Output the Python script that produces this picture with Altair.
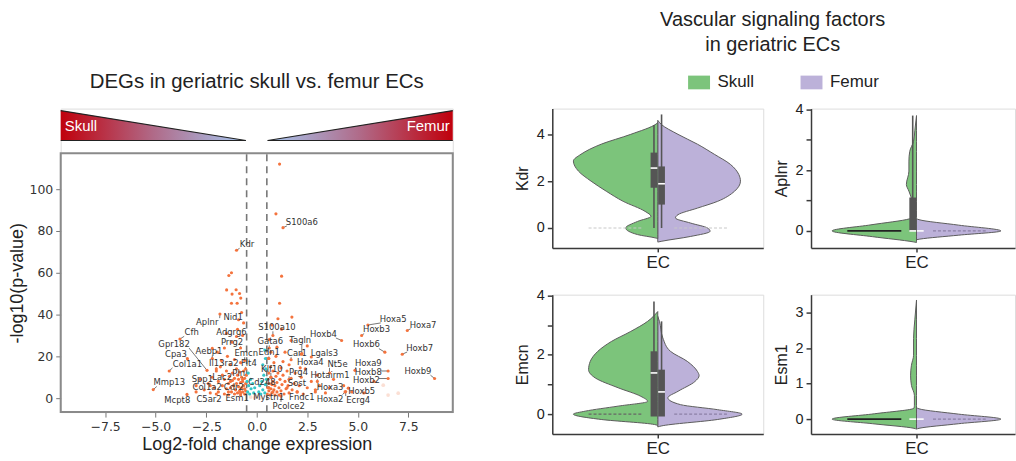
import altair as alt
import pandas as pd

# ---------------- volcano values ----------------
X_TICKS = [-7.5, -5.0, -2.5, 0.0, 2.5, 5.0, 7.5]
Y_TICKS = [0, 20, 40, 60, 80, 100]
FC_THRESHOLDS = [-0.5, 0.5]
X_RANGE = [-9.7, 9.7]          # log2FC extent of the volcano frame
Y_RANGE = [-6.67, 117.2]       # -log10 p extent of the volcano frame

ORANGE_PTS = [
    (1.13, 112), (0.95, 88.2), (1.23, 58.4), (1.13, 45.4), (-1.38, 58.7), (-1.25, 60),
    (-1.49, 51.8), (-1.22, 49.8), (-1.02, 51.9), (-0.85, 50.1), (-0.79, 47.9), (-1.25, 45.4),
    (-0.97, 45.4), (1.74, 38.8), (-1.23, 26.8), (1.23, 33), (1.7, 27.6), (2.2, 21), (1.0, 24.4),
    (-2.2, 23.8), (0.62, 28), (0.75, 35), (-0.7, 30), (-0.65, 36), (-1.5, 31), (-0.95, 33),
    (1.05, 38), (2.5, 25), (1.4, 22), (-0.9, 37.5),
    (-2.6, 4), (-2.4, 7), (-2.3, 2.5), (-2.2, 10), (-2.1, 5), (-2.0, 13), (-1.9, 8), (-1.9, 3),
    (-1.8, 15), (-1.7, 6), (-1.7, 11), (-1.6, 2), (-1.6, 9), (-1.5, 13), (-1.5, 4.5), (-1.4, 7),
    (-1.4, 1.5), (-1.35, 10.5), (-1.3, 16), (-1.3, 5), (-1.25, 3), (-1.2, 8.5), (-1.2, 12),
    (-1.15, 6), (-1.1, 2), (-1.1, 9.5), (-1.05, 4), (-1.0, 14), (-1.0, 7), (-0.95, 11),
    (-0.95, 2.5), (-0.9, 5.5), (-0.9, 9), (-0.85, 3.5), (-0.85, 12.5), (-0.8, 7.5), (-0.8, 1.5),
    (-0.75, 10), (-0.75, 5), (-0.7, 3), (-0.7, 8), (-0.65, 6), (-0.65, 13), (-0.6, 2), (-0.6, 4.5),
    (-0.6, 9.5), (-0.55, 7), (-0.55, 3.5), (-0.52, 11), (-1.75, 18), (-1.45, 20), (-1.1, 18.5),
    (-0.8, 17), (-2.8, 9), (-3.0, 6), (-1.95, 22), (-1.6, 24),
    (0.52, 2), (0.55, 5), (0.55, 9), (0.6, 3.5), (0.6, 12), (0.62, 7), (0.65, 1.5), (0.68, 15),
    (0.7, 4.5), (0.7, 10), (0.75, 6.5), (0.75, 2.5), (0.8, 8), (0.8, 13), (0.85, 4), (0.85, 17),
    (0.9, 1.5), (0.9, 6), (0.95, 10.5), (1.0, 3), (1.0, 7.5), (1.05, 12), (1.1, 5), (1.1, 1.5),
    (1.15, 9), (1.2, 3.5), (1.2, 14.5), (1.25, 6.5), (1.3, 11), (1.35, 2), (1.4, 8), (1.45, 4.5),
    (1.5, 13), (1.55, 6), (1.6, 2.5), (1.7, 9.5), (1.75, 4), (1.85, 7), (1.9, 12), (2.0, 3),
    (2.1, 6), (2.2, 10), (2.3, 2), (2.5, 5), (2.7, 8), (2.9, 3), (3.1, 6), (3.4, 2.5), (3.6, 5),
    (0.58, 19), (0.7, 22), (0.95, 20), (1.3, 17.5), (1.6, 16), (2.4, 14), (3.0, 11), (3.8, 9),
    (4.3, 6), (4.7, 3), (5.3, 2.5), (5.8, 8),
]
CYAN_PTS = [
    (-0.45, 3), (-0.4, 6), (-0.35, 2), (-0.3, 9), (-0.28, 4.5), (-0.2, 7), (-0.15, 2.5),
    (-0.1, 5), (0.1, 3), (0.15, 6), (0.2, 2), (0.25, 8), (0.3, 4), (0.35, 11), (0.4, 2.5),
    (0.42, 6.5), (0.45, 14), (0.43, 19), (0.4, 23), (-0.42, 12), (0.3, 16), (0.48, 9), (-0.48, 8),
]
FAINT_PTS = [(-0.3, 0.5), (0.0, 1.0), (0.2, 0.3), (-0.1, 0.2), (6.26, 6.2), (7.0, 2.4), (6.5, 1.5)]

# (gene, log2FC, -log10 p, label x, label y)
GENE_LABELS = [
    ("Kdr", -1.0, 70.8, -0.48, 73.7), ("S100a6", 1.30, 81.6, 2.23, 84.4),
    ("Aplnr", -1.82, 40.3, -2.45, 36.3), ("Nid1", -0.75, 41.0, -1.17, 39.0),
    ("Cfh", -3.8, 28.3, -3.22, 31.6), ("Adgrg6", -1.0, 29.5, -1.25, 31.6),
    ("Gpr182", -2.46, 13.3, -4.09, 26.0), ("Prrg2", -0.8, 24.0, -1.22, 26.8),
    ("Aebp1", -2.2, 19.0, -2.36, 22.4), ("Emcn", -0.6, 18.0, -0.52, 21.6),
    ("Cpa3", -3.43, 18.9, -4.0, 21.3), ("Col1a1", -4.33, 13.0, -3.43, 16.5),
    ("Il13ra2", -2.0, 14.0, -1.63, 16.8), ("Flt4", -0.55, 14.0, -0.39, 17.0),
    ("Mmp13", -5.12, 4.1, -4.33, 7.6), ("Spp1", -2.3, 6.0, -2.69, 9.2),
    ("Lac2", -1.3, 8.0, -1.71, 10.1), ("Pln", -0.7, 9.0, -0.89, 12.0),
    ("Col1a2", -3.0, 3.0, -2.45, 5.1), ("Cdr2", -1.4, 3.0, -1.13, 5.1),
    ("Mcpt8", -3.45, 1.8, -3.93, -1.0), ("C5ar2", -2.0, 2.0, -2.36, -0.5),
    ("Esm1", -0.8, 2.5, -0.97, -0.1), ("S100a10", 0.8, 30.0, 1.0, 34.0),
    ("Gata6", 0.62, 24.0, 0.67, 27.3), ("Tagln", 2.23, 21.3, 2.15, 27.6),
    ("Edn1", 0.6, 19.0, 0.62, 22.0), ("Car1", 1.7, 18.4, 1.99, 21.6),
    ("Hoxb4", 4.2, 27.6, 3.3, 30.8), ("Lgals3", 2.7, 19.7, 3.35, 21.8),
    ("Hoxa4", 2.15, 14.5, 2.65, 17.1), ("Nt5e", 3.6, 12.0, 4.0, 16.5),
    ("Klf10", 0.7, 10.0, 0.75, 14.1), ("Prg4", 1.6, 9.0, 2.07, 12.5),
    ("Hotairm1", 3.0, 8.0, 3.63, 11.0), ("Sost", 1.5, 5.0, 1.99, 7.3),
    ("Hoxa3", 2.9, 4.0, 3.63, 5.4), ("Cd248", 0.6, 5.0, 0.26, 7.8),
    ("Mystn1", 0.8, 3.0, 0.59, 0.6), ("Fndc1", 2.0, 3.0, 2.23, 0.6),
    ("Pcolce2", 1.2, 1.0, 1.58, -3.8), ("Hoxa2", 4.37, 3.0, 3.63, -0.3),
    ("Hoxb5", 4.53, 4.8, 5.19, 3.5), ("Ecrg4", 4.4, 3.2, 5.02, -1.0),
    ("Hoxa5", 5.5, 35.0, 6.75, 38.0), ("Hoxb3", 5.19, 30.0, 5.93, 32.9),
    ("Hoxa7", 7.45, 32.4, 8.23, 35.2), ("Hoxb6", 6.34, 22.0, 5.43, 25.7),
    ("Hoxb7", 7.2, 21.0, 8.06, 24.1), ("Hoxa9", 4.86, 13.3, 5.52, 16.8),
    ("Hoxb8", 6.5, 13.0, 5.52, 12.5), ("Hoxb2", 6.5, 9.4, 5.43, 8.6),
    ("Hoxb9", 8.8, 9.4, 7.98, 13.0),
]

# gradient wedges drawn above the frame (log2FC extent, -log10 p height)
TRI_LEFT_X = [-9.7, -0.54]
TRI_LEFT_TOP = [137.6, 123.3]
TRI_RIGHT_X = [0.54, 9.7]
TRI_RIGHT_TOP = [123.3, 137.6]
TRI_BASE = 123.3

# ---------------- violin values: (expression, relative density) ----------------
SIDES = ["Skull", "Femur"]
PROFILES = {
    ("Kdr", "Skull"): [(4.5, 0), (4.44, .02), (4.0, .32), (3.58, .67), (3.15, .91), (2.86, 1.0),
                       (2.43, .94), (2.0, .79), (1.57, .61), (1.14, .41), (0.71, .15), (0.5, .08),
                       (0.28, .24), (0.0, .38), (-0.28, .24), (-0.43, .02), (-0.45, 0)],
    ("Kdr", "Femur"): [(4.6, 0), (4.43, .04), (4.0, .24), (3.58, .47), (3.15, .67), (2.72, .86),
                       (2.29, .96), (2.0, .98), (1.57, .91), (1.14, .71), (0.85, .47), (0.57, .24),
                       (0.43, .21), (0.21, .39), (0.0, .59), (-0.14, .62), (-0.36, .39),
                       (-0.57, .04), (-0.6, 0)],
    ("Aplnr", "Skull"): [(3.8, 0), (3.3, .02), (2.95, .035), (2.62, .08), (2.3, .09), (1.97, .09),
                         (1.53, .12), (1.31, .09), (0.98, .05), (0.66, .035), (0.45, .035),
                         (0.40, .08), (0.2, .54), (0.0, 1.0), (-0.19, .52), (-0.36, .04), (-0.38, 0)],
    ("Aplnr", "Femur"): [(0.40, 0), (0.37, .03), (0.19, .5), (0.0, 1.0), (-0.14, .5),
                         (-0.27, .04), (-0.29, 0)],
    ("Emcn", "Skull"): [(3.46, 0), (3.13, .12), (2.79, .32), (2.45, .55), (2.12, .71), (1.78, .8),
                        (1.50, .82), (1.22, .74), (0.89, .47), (0.60, .2), (0.43, .12), (0.27, .47),
                        (0.10, .86), (0.0, 1.0), (-0.18, .67), (-0.35, .04), (-0.38, 0)],
    ("Emcn", "Femur"): [(3.3, 0), (3.13, .02), (2.57, .06), (2.12, .15), (1.78, .35), (1.44, .47),
                        (1.3, .49), (1.1, .44), (0.77, .24), (0.55, .12), (0.32, .27), (0.15, .71),
                        (0.0, 1.0), (-0.18, .71), (-0.40, .04), (-0.43, 0)],
    ("Esm1", "Skull"): [(3.36, 0), (2.8, .02), (2.27, .035), (1.8, .035), (1.52, .06), (1.24, .07),
                        (0.95, .06), (0.67, .025), (0.39, .025), (0.31, .03), (0.15, .5), (0.0, 1.0),
                        (-0.13, .52), (-0.26, .03), (-0.28, 0)],
    ("Esm1", "Femur"): [(0.32, 0), (0.29, .03), (0.14, .5), (0.0, 1.0), (-0.13, .5),
                        (-0.26, .03), (-0.28, 0)],
}
# (q1, median, q3, whisker low, whisker high)
BOXES = {
    ("Kdr", "Skull"): (1.72, 2.56, 3.22, 0.0, 4.4),
    ("Kdr", "Femur"): (1.0, 1.89, 2.63, 0.0, 4.85),
    ("Aplnr", "Skull"): (0.0, 0.0, 1.1, 0.0, 3.8),
    ("Aplnr", "Femur"): (0.0, 0.0, 0.0, 0.0, 0.0),
    ("Emcn", "Skull"): (-0.08, 1.39, 2.12, 0.0, 3.8),
    ("Emcn", "Femur"): (-0.08, 0.75, 1.5, 0.0, 3.13),
    ("Esm1", "Skull"): (0.0, 0.0, 0.0, 0.0, 0.0),
    ("Esm1", "Femur"): (0.0, 0.0, 0.0, 0.0, 0.0),
}

# ---------------- styling ----------------
FONT = "Liberation Sans"
ORANGE = "#f4733d"
CYAN = "#35c6c8"
GREEN = "#7cc47b"
PURPLE = "#bcb1d9"
AX = "#3a3a3a"

# ---------------- left panel: wedges + volcano in one view ----------------
xs = alt.Scale(domain=X_RANGE, nice=False, zero=False)
ys = alt.Scale(domain=[Y_RANGE[0], 138.57], nice=False, zero=False)
vx_axis = alt.Axis(values=X_TICKS, format=".1f", grid=False, domain=False, tickColor="#777",
                   tickSize=5, labelColor="#333", labelFont="DejaVu Sans", labelFontSize=12.5,
                   labelPadding=3, title="Log2-fold change expression", titleFont=FONT,
                   titleFontSize=18, titleFontWeight="normal", titleColor="#222", titlePadding=3)
vy_axis = alt.Axis(values=Y_TICKS, grid=False, domain=False, tickColor="#777", tickSize=5,
                   labelColor="#333", labelFont="DejaVu Sans", labelFontSize=12.5, labelPadding=3,
                   title="-log10(p-value)", titleFont=FONT, titleFontSize=18,
                   titleFontWeight="normal", titleColor="#222", titlePadding=3, titleY=175)


def vx(field):
    return alt.X(field, type="quantitative", scale=xs, axis=vx_axis)


def vy(field):
    return alt.Y(field, type="quantitative", scale=ys, axis=vy_axis)


orange_df = pd.DataFrame(ORANGE_PTS, columns=["x", "y"])
cyan_df = pd.DataFrame(CYAN_PTS, columns=["x", "y"])
faint_df = pd.DataFrame(FAINT_PTS, columns=["x", "y"])
genes_df = pd.DataFrame(GENE_LABELS, columns=["gene", "x", "y", "lx", "ly"])
# leader lines end at the nearest edge of each label box
half_w = genes_df["gene"].str.len() * 5.0 / 20.3 / 2
genes_df["ex"] = genes_df["x"].clip(lower=genes_df["lx"] - half_w, upper=genes_df["lx"] + half_w)
genes_df["ey"] = genes_df["y"].clip(lower=genes_df["ly"] - 2.0, upper=genes_df["ly"] + 2.0)

frame = alt.Chart(pd.DataFrame({"x": [X_RANGE[0]], "x2": [X_RANGE[1]], "y": [Y_RANGE[0]], "y2": [Y_RANGE[1]]})
                  ).mark_rect(fillOpacity=0, stroke="#8a8a8a", strokeWidth=2).encode(
    x=vx("x"), x2="x2:Q", y=vy("y"), y2="y2:Q")
thr = alt.Chart(pd.DataFrame({"t": FC_THRESHOLDS, "y": [Y_RANGE[0]] * 2, "y2": [Y_RANGE[1]] * 2})).mark_rule(
    color="#777", strokeWidth=1.6, strokeDash=[7, 5]).encode(x=vx("t"), y=vy("y"), y2="y2:Q")
faint = alt.Chart(faint_df).mark_circle(size=14, color="#f6b8a0", opacity=0.45).encode(x=vx("x"), y=vy("y"))
orange = alt.Chart(orange_df).mark_circle(size=10, color=ORANGE, opacity=1).encode(x=vx("x"), y=vy("y"))
cyan = alt.Chart(cyan_df).mark_circle(size=10, color=CYAN, opacity=1).encode(x=vx("x"), y=vy("y"))
leaders = alt.Chart(genes_df).mark_rule(color="#555", strokeWidth=0.8).encode(
    x=vx("x"), y=vy("y"), x2="ex:Q", y2="ey:Q")
gene_pts = alt.Chart(genes_df).mark_circle(size=10, color=ORANGE, opacity=1).encode(x=vx("x"), y=vy("y"))
gene_txt = alt.Chart(genes_df).mark_text(font="DejaVu Sans", fontSize=8.5, color="#333").encode(
    x=vx("lx"), y=vy("ly"), text="gene:N")


def grad(stops):
    return {"gradient": "linear", "x1": 0, "x2": 1, "y1": 0, "y2": 0,
            "stops": [{"offset": o, "color": c} for o, c in stops]}


left_tri = pd.DataFrame({"x": TRI_LEFT_X, "y": TRI_LEFT_TOP, "y2": [TRI_BASE] * 2})
right_tri = pd.DataFrame({"x": TRI_RIGHT_X, "y": TRI_RIGHT_TOP, "y2": [TRI_BASE] * 2})
tri_layers = [
    alt.Chart(left_tri).mark_area(color=grad([(0, "#c0000c"), (0.5, "#b06a88"), (1, "#a6c8f2")])).encode(
        x=vx("x"), y=vy("y"), y2="y2:Q"),
    alt.Chart(right_tri).mark_area(color=grad([(0, "#a6c8f2"), (0.5, "#b06a88"), (1, "#c0000c")])).encode(
        x=vx("x"), y=vy("y"), y2="y2:Q"),
    alt.Chart(left_tri).mark_line(color="#222", strokeWidth=1.2).encode(x=vx("x"), y=vy("y")),
    alt.Chart(right_tri).mark_line(color="#222", strokeWidth=1.2).encode(x=vx("x"), y=vy("y")),
    alt.Chart(pd.DataFrame({"a": [TRI_LEFT_X[0], TRI_RIGHT_X[0]], "b": [TRI_LEFT_X[1], TRI_RIGHT_X[1]],
                            "z": [TRI_BASE, TRI_BASE]}))
    .mark_rule(color="#222", strokeWidth=1.2).encode(x=vx("a"), x2="b:Q", y=vy("z")),
    alt.Chart(pd.DataFrame({"x": [TRI_LEFT_X[0] + 0.2], "y": [130.3], "t": ["Skull"]}))
    .mark_text(align="left", color="white", font=FONT, fontSize=15).encode(x=vx("x"), y=vy("y"), text="t:N"),
    alt.Chart(pd.DataFrame({"x": [TRI_RIGHT_X[1] - 0.15], "y": [130.3], "t": ["Femur"]}))
    .mark_text(align="right", color="white", font=FONT, fontSize=15).encode(x=vx("x"), y=vy("y"), text="t:N"),
]

left = alt.layer(frame, thr, faint, orange, cyan, leaders, gene_pts, gene_txt, *tri_layers).properties(
    width=394, height=305,
    title=alt.TitleParams("DEGs in geriatric skull vs. femur ECs", font=FONT, fontSize=20.5,
                          fontWeight="normal", color="#222", anchor="middle", offset=16))

# ---------------- violins ----------------
rows = []
for (g, s), pts in PROFILES.items():
    for v, w in pts:
        rows.append({"gene": g, "side": s, "v": v,
                     "lo": -w if s == "Skull" else 0.0, "hi": 0.0 if s == "Skull" else w})
prof_all = pd.DataFrame(rows)

brow = []
for (g, s), (q1, med, q3, wlo, whi) in BOXES.items():
    sgn = -1 if s == "Skull" else 1
    brow.append({"gene": g, "side": s, "q1": q1, "med": med, "q3": q3, "wlo": wlo, "whi": whi,
                 "b1": sgn * 0.085, "b2": sgn * 0.005, "bw": sgn * 0.045})
box_all = pd.DataFrame(brow)

ZERO_STYLE = {
    "Kdr": [("Skull", "#c8c8c8", [3, 2], 1.0), ("Femur", "#c8c8c8", [3, 2], 1.0)],
    "Aplnr": [("Skull", "#222", [1, 0], 1.6), ("Femur", "#8c80a6", [3, 2], 1.4)],
    "Emcn": [("Skull", "#666", [3, 2], 1.3), ("Femur", "#8c80a6", [3, 2], 1.3)],
    "Esm1": [("Skull", "#222", [1, 0], 1.6), ("Femur", "#8c80a6", [3, 2], 1.4)],
}

color_scale = alt.Scale(domain=SIDES, range=[GREEN, PURPLE])
legend = alt.Legend(orient="none", legendX=633, legendY=-35, direction="horizontal", title=None,
                    symbolType="M-1.6,-1H1.6V1H-1.6Z", symbolSize=190, symbolStrokeWidth=0,
                    symbolOpacity=1, labelFont=FONT, labelFontSize=17, labelColor="#222",
                    labelOffset=10, columnPadding=46, padding=0)


def violin(gene, ydom, yvals, even, xdom, width):
    ysc = alt.Scale(domain=ydom, nice=False, zero=False)
    xsc = alt.Scale(domain=xdom, nice=False, zero=False)
    ykw = dict(values=yvals, grid=False, domainColor=AX, domainWidth=1.5, tickColor=AX, tickWidth=1.5,
               tickSize=5, labelFont=FONT, labelFontSize=14.5, labelColor="#222", labelPadding=3,
               title=gene, titleFont=FONT, titleFontSize=16, titleFontWeight="normal",
               titleColor="#222", titlePadding=6)
    if even:
        ykw["labelExpr"] = "datum.value % 2 === 0 ? datum.label : ''"
    yaxis = alt.Axis(**ykw)
    xaxis = alt.Axis(values=[0], labelExpr="'EC'", grid=False, domainColor=AX, domainWidth=1.5,
                     tickColor=AX, tickWidth=1.5, tickSize=4, labelFont=FONT, labelFontSize=17,
                     labelColor="#222", labelPadding=3, title=None)

    def X(f):
        return alt.X(f, type="quantitative", scale=xsc, axis=xaxis)

    def Y(f):
        return alt.Y(f, type="quantitative", scale=ysc, axis=yaxis)

    prof = prof_all[prof_all["gene"] == gene].sort_values(["side", "v"])
    box = box_all[box_all["gene"] == gene]
    area = alt.Chart(prof).mark_area(orient="horizontal", interpolate="monotone", stroke="#5c5c5c",
                                     strokeWidth=1, opacity=1).encode(
        y=Y("v"), x=X("lo"), x2="hi:Q",
        color=alt.Color("side:N", scale=color_scale, legend=legend))
    layers = [area]
    for side, col, dash, sw in ZERO_STYLE[gene]:
        sgn = -1 if side == "Skull" else 1
        zdf = pd.DataFrame({"a": [sgn * 0.82], "b": [sgn * 0.18], "z": [0.0]})
        layers.append(alt.Chart(zdf).mark_rule(color=col, strokeDash=dash, strokeWidth=sw)
                      .encode(x=X("a"), x2="b:Q", y=Y("z")))
    layers.append(alt.Chart(box).mark_rule(color="#555", strokeWidth=1.6).encode(
        x=X("bw"), y=Y("wlo"), y2="whi:Q"))
    layers.append(alt.Chart(box).mark_rect(color="#555").encode(
        x=X("b1"), x2="b2:Q", y=Y("q1"), y2="q3:Q"))
    layers.append(alt.Chart(box).mark_rule(color="white", strokeWidth=1.6).encode(
        x=X("b1"), x2="b2:Q", y=Y("med")))
    return alt.layer(*layers).properties(width=width, height=140)


kdr = violin("Kdr", [-0.85, 5.1], [0, 2, 4], False, [-1.25, 1.25], 212)
aplnr = violin("Aplnr", [-0.56, 4.03], [0, 1, 2, 3, 4], True, [-1.25, 1.167], 205)
emcn = violin("Emcn", [-0.67, 4.03], [0, 1, 2, 3, 4], True, [-1.25, 1.25], 212)
esm1 = violin("Esm1", [-0.42, 3.51], [0, 1, 2, 3], False, [-1.25, 1.167], 205)

right = alt.vconcat(
    alt.hconcat(kdr, aplnr, spacing=48, bounds="flush"),
    alt.hconcat(emcn, esm1, spacing=48, bounds="flush"),
    spacing=15,
    title=alt.TitleParams(["Vascular signaling factors", "in geriatric ECs"], font=FONT,
                          fontSize=20, fontWeight="normal", color="#222", anchor="middle",
                          lineHeight=25, offset=46.5, dx=8))

chart = alt.hconcat(left, right, spacing=58).properties(
    padding={"left": 7, "top": 8, "right": 0, "bottom": 0}
).configure_view(stroke=None).configure(background="white")

chart.save("out.html", embed_options={"renderer": "svg", "actions": False})
